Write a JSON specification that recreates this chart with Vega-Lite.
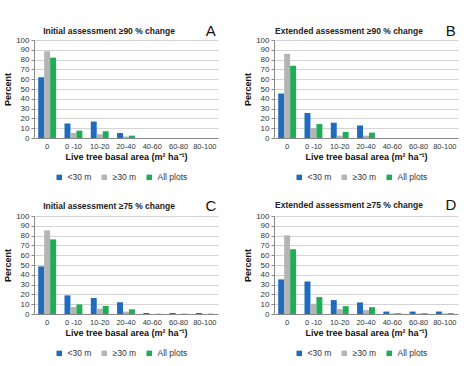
{
  "$schema": "https://vega.github.io/schema/vega-lite/v6.json",
  "background": "white",
  "padding": {"left": 3, "top": 24, "right": 3, "bottom": 0},
  "datasets": {
    "bars": [
      {"p": "A", "c": "0", "g": "<30 m", "v": 62}, {"p": "A", "c": "0", "g": "≥30 m", "v": 88.5}, {"p": "A", "c": "0", "g": "All plots", "v": 82},
      {"p": "A", "c": "0 -10", "g": "<30 m", "v": 14.8}, {"p": "A", "c": "0 -10", "g": "≥30 m", "v": 5.2}, {"p": "A", "c": "0 -10", "g": "All plots", "v": 7.5},
      {"p": "A", "c": "10-20", "g": "<30 m", "v": 16.8}, {"p": "A", "c": "10-20", "g": "≥30 m", "v": 3.8}, {"p": "A", "c": "10-20", "g": "All plots", "v": 6.9},
      {"p": "A", "c": "20-40", "g": "<30 m", "v": 5.2}, {"p": "A", "c": "20-40", "g": "≥30 m", "v": 1.5}, {"p": "A", "c": "20-40", "g": "All plots", "v": 2.4},
      {"p": "A", "c": "40-60", "g": "<30 m", "v": 0}, {"p": "A", "c": "40-60", "g": "≥30 m", "v": 0}, {"p": "A", "c": "40-60", "g": "All plots", "v": 0},
      {"p": "A", "c": "60-80", "g": "<30 m", "v": 0}, {"p": "A", "c": "60-80", "g": "≥30 m", "v": 0}, {"p": "A", "c": "60-80", "g": "All plots", "v": 0},
      {"p": "A", "c": "80-100", "g": "<30 m", "v": 0}, {"p": "A", "c": "80-100", "g": "≥30 m", "v": 0}, {"p": "A", "c": "80-100", "g": "All plots", "v": 0},

      {"p": "B", "c": "0", "g": "<30 m", "v": 45.4}, {"p": "B", "c": "0", "g": "≥30 m", "v": 85.9}, {"p": "B", "c": "0", "g": "All plots", "v": 73.7},
      {"p": "B", "c": "0 -10", "g": "<30 m", "v": 25.5}, {"p": "B", "c": "0 -10", "g": "≥30 m", "v": 10}, {"p": "B", "c": "0 -10", "g": "All plots", "v": 14.2},
      {"p": "B", "c": "10-20", "g": "<30 m", "v": 15.6}, {"p": "B", "c": "10-20", "g": "≥30 m", "v": 2.4}, {"p": "B", "c": "10-20", "g": "All plots", "v": 6.2},
      {"p": "B", "c": "20-40", "g": "<30 m", "v": 12.8}, {"p": "B", "c": "20-40", "g": "≥30 m", "v": 2.4}, {"p": "B", "c": "20-40", "g": "All plots", "v": 5.5},
      {"p": "B", "c": "40-60", "g": "<30 m", "v": 0}, {"p": "B", "c": "40-60", "g": "≥30 m", "v": 0}, {"p": "B", "c": "40-60", "g": "All plots", "v": 0},
      {"p": "B", "c": "60-80", "g": "<30 m", "v": 0}, {"p": "B", "c": "60-80", "g": "≥30 m", "v": 0}, {"p": "B", "c": "60-80", "g": "All plots", "v": 0},
      {"p": "B", "c": "80-100", "g": "<30 m", "v": 0}, {"p": "B", "c": "80-100", "g": "≥30 m", "v": 0}, {"p": "B", "c": "80-100", "g": "All plots", "v": 0},

      {"p": "C", "c": "0", "g": "<30 m", "v": 48.6}, {"p": "C", "c": "0", "g": "≥30 m", "v": 85.3}, {"p": "C", "c": "0", "g": "All plots", "v": 76.1},
      {"p": "C", "c": "0 -10", "g": "<30 m", "v": 19}, {"p": "C", "c": "0 -10", "g": "≥30 m", "v": 7.1}, {"p": "C", "c": "0 -10", "g": "All plots", "v": 9.8},
      {"p": "C", "c": "10-20", "g": "<30 m", "v": 16.3}, {"p": "C", "c": "10-20", "g": "≥30 m", "v": 5.4}, {"p": "C", "c": "10-20", "g": "All plots", "v": 8.2},
      {"p": "C", "c": "20-40", "g": "<30 m", "v": 11.9}, {"p": "C", "c": "20-40", "g": "≥30 m", "v": 2.4}, {"p": "C", "c": "20-40", "g": "All plots", "v": 4.8},
      {"p": "C", "c": "40-60", "g": "<30 m", "v": 1}, {"p": "C", "c": "40-60", "g": "≥30 m", "v": 0}, {"p": "C", "c": "40-60", "g": "All plots", "v": 0.3},
      {"p": "C", "c": "60-80", "g": "<30 m", "v": 1}, {"p": "C", "c": "60-80", "g": "≥30 m", "v": 0}, {"p": "C", "c": "60-80", "g": "All plots", "v": 0.3},
      {"p": "C", "c": "80-100", "g": "<30 m", "v": 1}, {"p": "C", "c": "80-100", "g": "≥30 m", "v": 0}, {"p": "C", "c": "80-100", "g": "All plots", "v": 0.3},

      {"p": "D", "c": "0", "g": "<30 m", "v": 35.3}, {"p": "D", "c": "0", "g": "≥30 m", "v": 80.3}, {"p": "D", "c": "0", "g": "All plots", "v": 66.1},
      {"p": "D", "c": "0 -10", "g": "<30 m", "v": 33.2}, {"p": "D", "c": "0 -10", "g": "≥30 m", "v": 10.4}, {"p": "D", "c": "0 -10", "g": "All plots", "v": 17.3},
      {"p": "D", "c": "10-20", "g": "<30 m", "v": 14.2}, {"p": "D", "c": "10-20", "g": "≥30 m", "v": 4.9}, {"p": "D", "c": "10-20", "g": "All plots", "v": 8},
      {"p": "D", "c": "20-40", "g": "<30 m", "v": 11.8}, {"p": "D", "c": "20-40", "g": "≥30 m", "v": 4}, {"p": "D", "c": "20-40", "g": "All plots", "v": 7},
      {"p": "D", "c": "40-60", "g": "<30 m", "v": 2.5}, {"p": "D", "c": "40-60", "g": "≥30 m", "v": 0.5}, {"p": "D", "c": "40-60", "g": "All plots", "v": 0.8},
      {"p": "D", "c": "60-80", "g": "<30 m", "v": 2.5}, {"p": "D", "c": "60-80", "g": "≥30 m", "v": 0.5}, {"p": "D", "c": "60-80", "g": "All plots", "v": 0.8},
      {"p": "D", "c": "80-100", "g": "<30 m", "v": 2.5}, {"p": "D", "c": "80-100", "g": "≥30 m", "v": 0.5}, {"p": "D", "c": "80-100", "g": "All plots", "v": 0.8}
    ],
    "letters": [
      {"p": "A", "letter": "A"}, {"p": "B", "letter": "B"}, {"p": "C", "letter": "C"}, {"p": "D", "letter": "D"}
    ]
  },
  "columns": 2,
  "spacing": {"row": 16, "column": 25},
  "resolve": {"legend": {"color": "independent"}},
  "concat": [
    {
      "width": 184, "height": 98,
      "title": {"text": "Initial assessment ≥90 % change", "dx": -17},
      "layer": [
        {
          "data": {"name": "bars"},
          "transform": [{"filter": "datum.p === 'A'"}],
          "mark": {"type": "bar"},
          "encoding": {
            "x": {"field": "c", "type": "nominal", "sort": ["0", "0 -10", "10-20", "20-40", "40-60", "60-80", "80-100"], "scale": {"paddingInner": 0.32, "paddingOuter": 0.16}, "axis": {"title": "Live tree basal area (m² ha⁻¹)"}},
            "xOffset": {"field": "g", "type": "nominal", "sort": ["<30 m", "≥30 m", "All plots"]},
            "y": {"field": "v", "type": "quantitative", "scale": {"domain": [0, 100], "nice": false}, "axis": {"title": "Percent", "values": [0, 10, 20, 30, 40, 50, 60, 70, 80, 90, 100]}},
            "color": {"field": "g", "type": "nominal", "scale": {"domain": ["<30 m", "≥30 m", "All plots"], "range": ["#1f6bbd", "#b4b4b4", "#1fae55"]}, "legend": {"title": null}}
          }
        },
        {
          "data": {"name": "letters"},
          "transform": [{"filter": "datum.p === 'A'"}],
          "mark": {"type": "text", "fontSize": 15, "baseline": "middle", "dx": 6, "color": "#111"},
          "encoding": {
            "x": {"datum": "80-100", "type": "nominal", "axis": {"title": "Live tree basal area (m² ha⁻¹)"}},
            "y": {"datum": 109, "type": "quantitative", "axis": {"title": "Percent", "values": [0, 10, 20, 30, 40, 50, 60, 70, 80, 90, 100]}},
            "text": {"field": "letter"}
          }
        }
      ]
    },
    {
      "width": 184, "height": 98,
      "title": {"text": "Extended assessment ≥90 % change", "dx": -17},
      "layer": [
        {
          "data": {"name": "bars"},
          "transform": [{"filter": "datum.p === 'B'"}],
          "mark": {"type": "bar"},
          "encoding": {
            "x": {"field": "c", "type": "nominal", "sort": ["0", "0 -10", "10-20", "20-40", "40-60", "60-80", "80-100"], "scale": {"paddingInner": 0.32, "paddingOuter": 0.16}, "axis": {"title": "Live tree basal area (m² ha⁻¹)"}},
            "xOffset": {"field": "g", "type": "nominal", "sort": ["<30 m", "≥30 m", "All plots"]},
            "y": {"field": "v", "type": "quantitative", "scale": {"domain": [0, 100], "nice": false}, "axis": {"title": "Percent", "values": [0, 10, 20, 30, 40, 50, 60, 70, 80, 90, 100]}},
            "color": {"field": "g", "type": "nominal", "scale": {"domain": ["<30 m", "≥30 m", "All plots"], "range": ["#1f6bbd", "#b4b4b4", "#1fae55"]}, "legend": {"title": null}}
          }
        },
        {
          "data": {"name": "letters"},
          "transform": [{"filter": "datum.p === 'B'"}],
          "mark": {"type": "text", "fontSize": 15, "baseline": "middle", "dx": 6, "color": "#111"},
          "encoding": {
            "x": {"datum": "80-100", "type": "nominal", "axis": {"title": "Live tree basal area (m² ha⁻¹)"}},
            "y": {"datum": 109, "type": "quantitative", "axis": {"title": "Percent", "values": [0, 10, 20, 30, 40, 50, 60, 70, 80, 90, 100]}},
            "text": {"field": "letter"}
          }
        }
      ]
    },
    {
      "width": 184, "height": 98,
      "title": {"text": "Initial assessment ≥75 % change", "dx": -17},
      "layer": [
        {
          "data": {"name": "bars"},
          "transform": [{"filter": "datum.p === 'C'"}],
          "mark": {"type": "bar"},
          "encoding": {
            "x": {"field": "c", "type": "nominal", "sort": ["0", "0 -10", "10-20", "20-40", "40-60", "60-80", "80-100"], "scale": {"paddingInner": 0.32, "paddingOuter": 0.16}, "axis": {"title": "Live tree basal area (m² ha⁻¹)"}},
            "xOffset": {"field": "g", "type": "nominal", "sort": ["<30 m", "≥30 m", "All plots"]},
            "y": {"field": "v", "type": "quantitative", "scale": {"domain": [0, 100], "nice": false}, "axis": {"title": "Percent", "values": [0, 10, 20, 30, 40, 50, 60, 70, 80, 90, 100]}},
            "color": {"field": "g", "type": "nominal", "scale": {"domain": ["<30 m", "≥30 m", "All plots"], "range": ["#1f6bbd", "#b4b4b4", "#1fae55"]}, "legend": {"title": null}}
          }
        },
        {
          "data": {"name": "letters"},
          "transform": [{"filter": "datum.p === 'C'"}],
          "mark": {"type": "text", "fontSize": 15, "baseline": "middle", "dx": 6, "color": "#111"},
          "encoding": {
            "x": {"datum": "80-100", "type": "nominal", "axis": {"title": "Live tree basal area (m² ha⁻¹)"}},
            "y": {"datum": 110, "type": "quantitative", "axis": {"title": "Percent", "values": [0, 10, 20, 30, 40, 50, 60, 70, 80, 90, 100]}},
            "text": {"field": "letter"}
          }
        }
      ]
    },
    {
      "width": 184, "height": 98,
      "title": {"text": "Extended assessment ≥75 % change", "dx": -17},
      "layer": [
        {
          "data": {"name": "bars"},
          "transform": [{"filter": "datum.p === 'D'"}],
          "mark": {"type": "bar"},
          "encoding": {
            "x": {"field": "c", "type": "nominal", "sort": ["0", "0 -10", "10-20", "20-40", "40-60", "60-80", "80-100"], "scale": {"paddingInner": 0.32, "paddingOuter": 0.16}, "axis": {"title": "Live tree basal area (m² ha⁻¹)"}},
            "xOffset": {"field": "g", "type": "nominal", "sort": ["<30 m", "≥30 m", "All plots"]},
            "y": {"field": "v", "type": "quantitative", "scale": {"domain": [0, 100], "nice": false}, "axis": {"title": "Percent", "values": [0, 10, 20, 30, 40, 50, 60, 70, 80, 90, 100]}},
            "color": {"field": "g", "type": "nominal", "scale": {"domain": ["<30 m", "≥30 m", "All plots"], "range": ["#1f6bbd", "#b4b4b4", "#1fae55"]}, "legend": {"title": null}}
          }
        },
        {
          "data": {"name": "letters"},
          "transform": [{"filter": "datum.p === 'D'"}],
          "mark": {"type": "text", "fontSize": 15, "baseline": "middle", "dx": 6, "color": "#111"},
          "encoding": {
            "x": {"datum": "80-100", "type": "nominal", "axis": {"title": "Live tree basal area (m² ha⁻¹)"}},
            "y": {"datum": 111, "type": "quantitative", "axis": {"title": "Percent", "values": [0, 10, 20, 30, 40, 50, 60, 70, 80, 90, 100]}},
            "text": {"field": "letter"}
          }
        }
      ]
    }
  ],
  "config": {
    "font": "Liberation Sans",
    "view": {"stroke": null},
    "title": {"fontSize": 8.5, "fontWeight": "bold", "color": "#222", "offset": -11, "anchor": "middle"},
    "axis": {"labelFontSize": 7.5, "labelColor": "#333", "titleFontSize": 9, "titleFontWeight": "bold", "titleColor": "#111", "domainColor": "#888", "tickColor": "#888", "gridColor": "#d4d4d4", "labelOverlap": false},
    "axisX": {"labelAngle": 0, "ticks": false, "grid": false, "labelPadding": 4, "titlePadding": 3},
    "axisY": {"labelFontSize": 8, "grid": true, "tickSize": 3, "labelPadding": 2, "titlePadding": 3},
    "legend": {"orient": "none", "legendX": 21, "legendY": 133, "direction": "horizontal", "symbolType": "square", "symbolSize": 30, "symbolStrokeWidth": 0, "labelFontSize": 8.5, "labelColor": "#333", "columnPadding": 8, "padding": 0}
  }
}
